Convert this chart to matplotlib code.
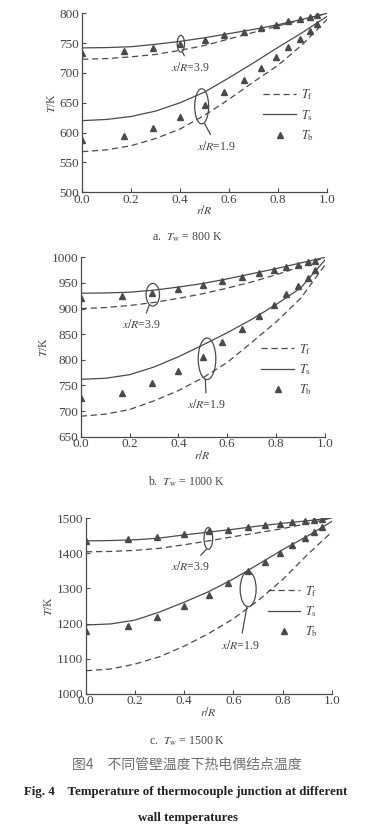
import matplotlib
matplotlib.use("Agg")
import matplotlib.pyplot as plt
from matplotlib.patches import Ellipse
import numpy as np

plt.rcParams['font.family'] = ['Liberation Serif', 'DejaVu Serif']
plt.rcParams['mathtext.fontset'] = 'stix'

# radial positions of the lines and of the thermocouple points
r_line = [0.0, 0.1, 0.2, 0.3, 0.4, 0.5, 0.6, 0.7, 0.8, 0.9, 1.0]
r_pts = [0.0, 0.17, 0.29, 0.40, 0.50, 0.58, 0.66, 0.73, 0.79, 0.84, 0.89, 0.93, 0.96]

# a. Tw = 800 K
a_ts39 = [742, 742.5, 744, 748, 753, 759, 766, 773, 781, 790, 800]
a_tf39 = [723, 724, 727, 731, 738, 746, 757, 768, 779, 789, 800]
a_tb39 = [733, 736.5, 741.5, 749, 755.5, 764, 768.5, 775, 781, 786.5, 790, 794.5, 796.5]
a_ts19 = [620, 622, 627, 636, 650, 668, 692, 717, 743, 768, 795]
a_tf19 = [568, 571, 578, 590, 606, 629, 656, 685, 713, 748, 790]
a_tb19 = [587, 593.5, 607.5, 626, 646, 667.5, 688.5, 708.5, 726.5, 743, 757.5, 771, 782.5]

# b. Tw = 1000 K
b_ts39 = [930, 930.5, 932, 936, 942, 949, 958, 968, 978, 989, 1000]
b_tf39 = [900, 902, 906, 912, 920, 929, 940, 952, 966, 982, 1000]
b_tb39 = [921, 924.5, 929.5, 938, 947, 954.5, 962, 969, 975, 982, 986, 990, 993.5]
b_ts19 = [762, 764, 771, 786, 806, 829, 853, 879, 908, 940, 995]
b_tf19 = [690, 694, 703, 720, 740, 765, 795, 834, 874, 920, 985]
b_tb19 = [726, 736, 754, 779, 806, 834, 860, 885, 907, 928, 945, 960, 975]

# c. Tw = 1500 K
c_ts39 = [1435, 1436, 1438, 1443, 1452, 1460, 1468, 1477, 1485, 1492, 1500]
c_tf39 = [1404, 1405, 1408, 1414, 1424, 1435, 1447, 1458, 1470, 1484, 1500]
c_tb39 = [1435.5, 1439, 1446, 1453.5, 1463, 1467, 1473.5, 1479, 1484, 1487.5, 1491.5, 1494, 1497]
c_ts19 = [1196, 1199, 1210, 1233, 1261, 1291, 1327, 1368, 1410, 1448, 1490]
c_tf19 = [1066, 1071, 1085, 1106, 1136, 1172, 1214, 1265, 1325, 1395, 1460]
c_tb19 = [1180, 1194, 1219.5, 1250, 1282, 1315, 1348.5, 1375, 1400, 1424, 1443, 1459, 1473.5]

ink = '#4a4a4a'
txt = '#444444'
fs = 8.5      # annotation / caption size
tfs = 9.5     # tick label size

fig = plt.figure(figsize=(3.89, 8.32), dpi=100)


def panel(rect, ylim, ystep, ts39, tf39, tb39, ts19, tf19, tb19, ells, leg_y):
    ax = fig.add_axes(rect)
    ax.plot(r_line, tf39, color=ink, lw=0.9, ls=(0, (5, 3)), label=r'$T_{\rm f}$')
    ax.plot(r_line, ts39, color=ink, lw=0.9, label=r'$T_{\rm s}$')
    ax.plot(r_pts, tb39, ls='none', marker='^', ms=4, color=ink, label=r'$T_{\rm b}$')
    ax.plot(r_line, tf19, color=ink, lw=0.9, ls=(0, (5, 3)))
    ax.plot(r_line, ts19, color=ink, lw=0.9)
    ax.plot(r_pts, tb19, ls='none', marker='^', ms=4, color=ink)

    # ellipses marking the x/R sections
    for (cx, cy, w, h, lab, p0, p1) in ells:
        ax.add_patch(Ellipse((cx, cy), w, h, fill=False, ec=ink, lw=0.9))
        ax.annotate(lab, xy=p0, xytext=p1, ha='center', va='center',
                    fontsize=fs, color=txt,
                    arrowprops=dict(arrowstyle='-', color=ink, lw=0.9,
                                    shrinkA=2, shrinkB=0))

    ax.set_xlim(0, 1)
    ax.set_ylim(*ylim)
    ax.set_xticks(np.arange(0, 1.01, 0.2))
    ax.set_xticklabels(['%.1f' % v for v in np.arange(0, 1.01, 0.2)])
    ax.set_yticks(np.arange(ylim[0], ylim[1] + 1, ystep))
    for s in ['top', 'right']:
        ax.spines[s].set_visible(False)
    for s in ['left', 'bottom']:
        ax.spines[s].set_color(ink)
        ax.spines[s].set_linewidth(0.9)
    ax.tick_params(direction='in', length=3, width=0.8, colors=ink,
                   labelcolor=txt, labelsize=tfs, pad=2)
    ax.tick_params(axis='x', pad=1)
    ax.set_xlabel(r'$r/R$', fontsize=fs, color=txt, labelpad=-1)
    ax.set_ylabel(r'$T$/K', fontsize=fs, color=txt, labelpad=1)
    ax.legend(loc='center left', bbox_to_anchor=(0.74, leg_y), frameon=False,
              fontsize=9, handlelength=2.6, handletextpad=0.4,
              labelspacing=0.45, labelcolor=txt, borderpad=0, borderaxespad=0)
    return ax


panel([0.211, 0.769, 0.630, 0.215], (500, 800), 50,
      a_ts39, a_tf39, a_tb39, a_ts19, a_tf19, a_tb19,
      [(0.403, 749, 0.03, 28, r'$x/R$=3.9', (0.41, 735), (0.44, 709)),
       (0.488, 644, 0.057, 59, r'$x/R$=1.9', (0.50, 615), (0.55, 577))],
      0.43)
panel([0.2075, 0.4751, 0.628, 0.2156], (650, 1000), 50,
      b_ts39, b_tf39, b_tb39, b_ts19, b_tf19, b_tb19,
      [(0.295, 927, 0.055, 44, r'$x/R$=3.9', (0.28, 906), (0.25, 868)),
       (0.517, 802, 0.072, 81, r'$x/R$=1.9', (0.51, 762), (0.515, 712))],
      0.374)
panel([0.221, 0.1659, 0.6317, 0.2115], (1000, 1500), 100,
      c_ts39, c_tf39, c_tb39, c_ts19, c_tf19, c_tb19,
      [(0.498, 1442, 0.035, 62, r'$x/R$=3.9', (0.49, 1411), (0.423, 1362)),
       (0.66, 1298, 0.065, 100, r'$x/R$=1.9', (0.655, 1248), (0.627, 1139))],
      0.468)

fig.text(0.48, 0.7151, r'a.  $T_{\rm w}$ = 800 K', ha='center', va='center', fontsize=fs, color=txt)
fig.text(0.48, 0.4207, r'b.  $T_{\rm w}$ = 1000 K', ha='center', va='center', fontsize=fs, color=txt)
fig.text(0.48, 0.1094, r'c.  $T_{\rm w}$ = 1500 K', ha='center', va='center', fontsize=fs, color=txt)
fig.text(0.48, 0.0805, '图4　不同管壁温度下热电偶结点温度', ha='center', va='center',
         fontsize=10, color='#707070', family=['Noto Sans CJK SC', 'DejaVu Sans'])
fig.text(0.478, 0.0481, 'Fig. 4    Temperature of thermocouple junction at different',
         ha='center', va='center', fontsize=9.3, color='#222222', fontweight='bold')
fig.text(0.483, 0.0168, 'wall temperatures', ha='center', va='center',
         fontsize=9.3, color='#222222', fontweight='bold')

fig.savefig('out.png', dpi=100)
